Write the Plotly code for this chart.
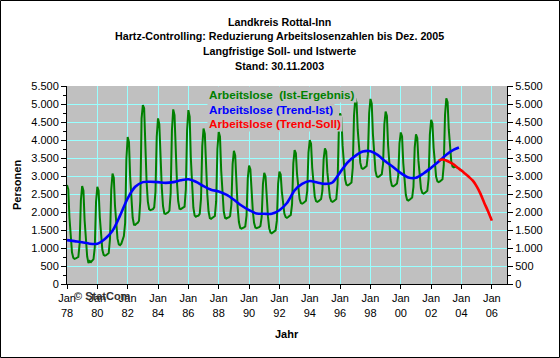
import pandas as pd
import plotly.graph_objects as go

# ---------------- data ----------------
g1978 = [2750, 2630, 1840, 1270, 880, 730, 700, 710, 720, 750, 1120, 2320]
g1979 = [2720, 2590, 1770, 1170, 770, 580, 640, 610, 650, 690, 1020, 2280]
g1980 = [2700, 2590, 1850, 1310, 950, 810, 790, 800, 820, 860, 1250, 2620]
g1981 = [3070, 2950, 2180, 1630, 1260, 1100, 1080, 1120, 1250, 1330, 1700, 3480]
g1982 = [4080, 3940, 2990, 2310, 1840, 1650, 1640, 1680, 1700, 1760, 2310, 4600]
g1983 = [4970, 4880, 3700, 2840, 2290, 2080, 2050, 2060, 2080, 2130, 2560, 4090]
g1984 = [4600, 4440, 3410, 2670, 2160, 1960, 1950, 1970, 1990, 2040, 2530, 4270]
g1985 = [4850, 4690, 3600, 2830, 2300, 2090, 2080, 2100, 2110, 2150, 2630, 4280]
g1986 = [4830, 4650, 3500, 2680, 2120, 1900, 1870, 1890, 1900, 1950, 2370, 3830]
g1987 = [4320, 4170, 3200, 2500, 2020, 1830, 1810, 1830, 1850, 1890, 2300, 3750]
g1988 = [4230, 4090, 3150, 2480, 2020, 1840, 1820, 1840, 1850, 1890, 2200, 3330]
g1989 = [3700, 3570, 2730, 2130, 1720, 1560, 1540, 1550, 1570, 1600, 1900, 2940]
g1990 = [3290, 3190, 2510, 2030, 1700, 1570, 1550, 1560, 1580, 1610, 1870, 2780]
g1991 = [3090, 2990, 2340, 1870, 1550, 1430, 1410, 1430, 1450, 1490, 1760, 2780]
g1992 = [3120, 3040, 2550, 2190, 1950, 1860, 1840, 1860, 1880, 1920, 2220, 3350]
g1993 = [3720, 3630, 3050, 2640, 2360, 2250, 2230, 2250, 2270, 2310, 2590, 3650]
g1994 = [4000, 3900, 3230, 2750, 2430, 2300, 2280, 2300, 2320, 2360, 2590, 3470]
g1995 = [3770, 3680, 3100, 2690, 2410, 2300, 2280, 2300, 2320, 2360, 2780, 4250]
g1996 = [4740, 4620, 3850, 3290, 2910, 2760, 2740, 2760, 2780, 2820, 3230, 4680]
g1997 = [5160, 5040, 4280, 3740, 3370, 3220, 3200, 3220, 3240, 3280, 3600, 4750]
g1998 = [5140, 5010, 4170, 3560, 3150, 2990, 2970, 2990, 3010, 3050, 3340, 4430]
g1999 = [4790, 4670, 3860, 3280, 2890, 2730, 2710, 2730, 2750, 2790, 3020, 3910]
g2000 = [4210, 4100, 3360, 2840, 2480, 2340, 2320, 2340, 2360, 2400, 2700, 3790]
g2001 = [4160, 4060, 3420, 2960, 2650, 2530, 2510, 2530, 2550, 2590, 2930, 4150]
g2002 = [4560, 4460, 3790, 3300, 2980, 2850, 2830, 2850, 2870, 2910, 3300, 4700]
g2003 = [5160, 5050, 4300, 3760, 3400, 3260, 3240, 3260, 3250, 3230, 3210]

ist_years = [g1978, g1979, g1980, g1981, g1982, g1983, g1984, g1985, g1986,
             g1987, g1988, g1989, g1990, g1991, g1992, g1993, g1994, g1995,
             g1996, g1997, g1998, g1999, g2000, g2001, g2002, g2003]

trend_ist_dates = ["1978-01", "1978-07", "1979-01", "1979-07", "1980-01", "1980-07",
                   "1981-01", "1981-07", "1982-01", "1982-07", "1983-01", "1983-07",
                   "1984-01", "1984-07", "1985-01", "1985-07", "1986-01", "1986-07",
                   "1987-01", "1987-07", "1988-01", "1988-07", "1989-01", "1989-07",
                   "1990-01", "1990-07", "1991-01", "1991-07", "1992-01", "1992-07",
                   "1993-01", "1993-07", "1994-01", "1994-07", "1995-01", "1995-07",
                   "1996-01", "1996-07", "1997-01", "1997-07", "1998-01", "1998-07",
                   "1999-01", "1999-07", "2000-01", "2000-07", "2001-01", "2001-07",
                   "2002-01", "2002-07", "2003-01", "2003-07", "2003-11"]
trend_ist = [1220, 1190, 1160, 1120, 1120, 1250,
             1480, 1900, 2380, 2700, 2830, 2840,
             2830, 2810, 2830, 2880, 2910, 2840,
             2720, 2620, 2570, 2480, 2340, 2180,
             2050, 1960, 1950, 1950, 2050, 2250,
             2600, 2780, 2860, 2820, 2780, 2820,
             3100, 3380, 3560, 3680, 3690, 3580,
             3400, 3250, 3080, 2960, 2950, 3070,
             3230, 3400, 3590, 3730, 3790]

trend_soll_dates = ["2002-07", "2002-10", "2003-01", "2003-04", "2003-07", "2003-10",
                    "2004-01", "2004-04", "2004-07", "2004-10", "2005-01", "2005-04",
                    "2005-07", "2005-10", "2006-01"]
trend_soll = [3440, 3460, 3430, 3380, 3320, 3230,
              3150, 3060, 2970, 2870, 2710, 2510,
              2260, 2020, 1760]

y_tickvals = [0, 500, 1000, 1500, 2000, 2500, 3000, 3500, 4000, 4500, 5000, 5500]
y_ticktext = ["0", "500", "1.000", "1.500", "2.000", "2.500", "3.000", "3.500",
              "4.000", "4.500", "5.000", "5.500"]
x_tickvals = ["1978-01-01", "1980-01-01", "1982-01-01", "1984-01-01", "1986-01-01",
              "1988-01-01", "1990-01-01", "1992-01-01", "1994-01-01", "1996-01-01",
              "1998-01-01", "2000-01-01", "2002-01-01", "2004-01-01", "2006-01-01"]
x_ticktext = ["Jan<br>78", "Jan<br>80", "Jan<br>82", "Jan<br>84", "Jan<br>86",
              "Jan<br>88", "Jan<br>90", "Jan<br>92", "Jan<br>94", "Jan<br>96",
              "Jan<br>98", "Jan<br>00", "Jan<br>02", "Jan<br>04", "Jan<br>06"]

title_lines = ["Landkreis Rottal-Inn",
               "Hartz-Controlling: Reduzierung Arbeitslosenzahlen bis Dez. 2005",
               "Langfristige Soll- und Istwerte",
               "Stand: 30.11.2003"]
series_names = ["Arbeitslose  (Ist-Ergebnis)", "Arbeitslose (Trend-Ist)",
                "Arbeitslose (Trend-Soll)"]

# ---------------- figure ----------------
ist = [v for yr in ist_years for v in yr]
ist_dates = pd.date_range("1978-01-01", periods=len(ist), freq="MS")

FONT = "Liberation Sans, Arial, sans-serif"
W, H = 560, 358
L, R, T, B = 67, 507, 86, 284
GREEN, BLUE, RED = "#008000", "#0000FF", "#FF0000"
GRID = "#99FFFF"


def px(xp):
    return (xp - L) / (R - L)


def py(yp):
    return (B - yp) / (B - T)


fig = go.Figure()
fig.add_trace(go.Scatter(x=ist_dates, y=ist, mode="lines",
                         line=dict(color=GREEN, width=2), showlegend=False,
                         name=series_names[0]))
fig.add_trace(go.Scatter(x=trend_ist_dates, y=trend_ist, mode="lines",
                         line=dict(color=BLUE, width=2.6, shape="spline", smoothing=0.8),
                         showlegend=False, name=series_names[1]))
fig.add_trace(go.Scatter(x=trend_soll_dates, y=trend_soll, mode="lines",
                         line=dict(color=RED, width=2.6, shape="spline", smoothing=0.8),
                         showlegend=False, name=series_names[2], yaxis="y2"))

axis_font = dict(family=FONT, size=11, color="black")
fig.update_layout(
    width=W, height=H,
    margin=dict(l=L, r=W - R, t=T, b=H - B, pad=0, autoexpand=False),
    paper_bgcolor="white", plot_bgcolor="#C0C0C0",
    font=dict(family=FONT, size=11, color="black"),
    xaxis=dict(type="date", range=["1978-01-01", "2007-01-01"],
               tickvals=x_tickvals, ticktext=x_ticktext, tickfont=axis_font,
               showgrid=True, gridcolor=GRID, gridwidth=1,
               ticks="outside", ticklen=4, tickcolor="black",
               ticklabelstandoff=0, automargin=False,
               showline=True, linecolor="black", linewidth=1,
               zeroline=False, fixedrange=True),
    yaxis=dict(range=[0, 5500], tickvals=y_tickvals, ticktext=y_ticktext,
               tickfont=axis_font, showgrid=True, gridcolor=GRID, gridwidth=1,
               ticks="outside", ticklen=5, tickcolor="black", automargin=False,
               minor=dict(tickvals=list(range(250, 5500, 500)), ticks="outside",
                          ticklen=3, tickcolor="black", showgrid=False),
               showline=True, linecolor="black", linewidth=1, zeroline=False),
    yaxis2=dict(range=[0, 5500], tickvals=y_tickvals, ticktext=y_ticktext,
                tickfont=axis_font, overlaying="y", side="right", showgrid=False,
                ticks="outside", ticklen=5, tickcolor="black", automargin=False,
                minor=dict(tickvals=list(range(250, 5500, 500)), ticks="outside",
                           ticklen=3, tickcolor="black", showgrid=False),
                showline=True, linecolor="black", linewidth=1, zeroline=False),
)

ann = []
for text, yc in zip(title_lines, [21.7, 36.3, 51.5, 65.8]):
    ann.append(dict(text="<b>%s</b>" % text, x=px(279), y=py(yc), xref="paper",
                    yref="paper", xanchor="center", yanchor="middle", showarrow=False,
                    font=dict(family=FONT, size=10.7, color="black")))
for text, col, yc in zip(series_names, [GREEN, BLUE, RED], [94.3, 109.0, 123.7]):
    ann.append(dict(text="<b>%s</b>" % text.replace("  ", "&nbsp; "), x=px(207),
                    y=py(yc), xref="paper", yref="paper", xanchor="left",
                    yanchor="middle", showarrow=False, bgcolor="#C0C0C0", borderpad=1,
                    font=dict(family=FONT, size=11.7, color=col)))
ann.append(dict(text="<b>Personen</b>", x=px(17), y=py(185), xref="paper",
                yref="paper", xanchor="center", yanchor="middle", textangle=-90,
                showarrow=False, font=dict(family=FONT, size=11, color="black")))
ann.append(dict(text="<b>Jahr</b>", x=px(287), y=py(334), xref="paper",
                yref="paper", xanchor="center", yanchor="middle",
                showarrow=False, font=dict(family=FONT, size=11, color="black")))
ann.append(dict(text="<b>© StatCom</b>", x=px(72), y=py(296), xref="paper",
                yref="paper", xanchor="left", yanchor="middle",
                showarrow=False, font=dict(family=FONT, size=11, color="#333333")))
fig.update_layout(annotations=ann)

fig.add_shape(type="rect", xref="paper", yref="paper",
              x0=px(0.5), x1=px(W - 0.5), y0=py(H - 0.5), y1=py(0.5),
              line=dict(color="black", width=1), fillcolor="rgba(0,0,0,0)")

fig.write_html("out.html", config={"displayModeBar": False},
               post_script="document.body.style.margin='0px';")
